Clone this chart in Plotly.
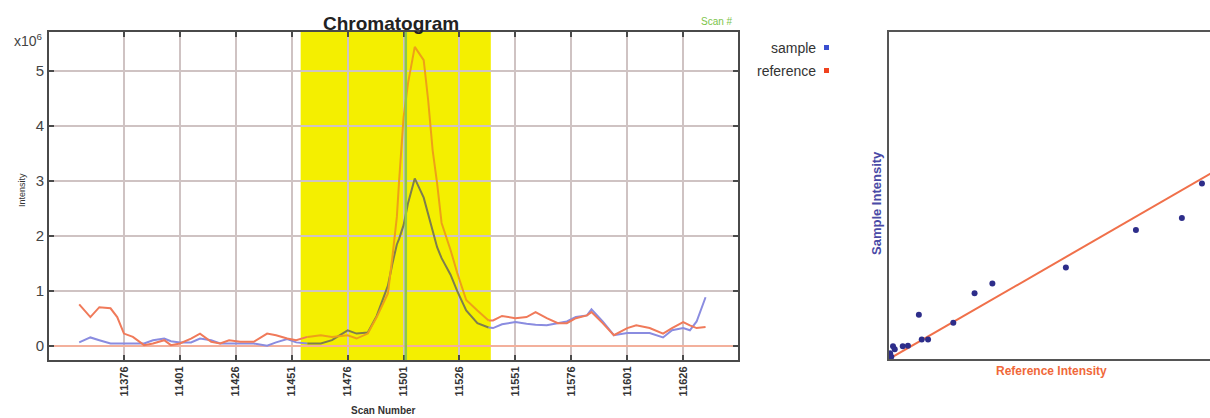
import plotly.graph_objects as go

# ---------------- data ----------------
scans = [11356, 11361, 11365, 11370, 11373, 11376, 11380, 11385, 11389, 11394,
         11397, 11401, 11406, 11410, 11415, 11419, 11423, 11428, 11434, 11440,
         11444, 11449, 11453, 11458, 11464, 11469, 11476, 11480, 11485, 11489,
         11494, 11496, 11498, 11499, 11501, 11503, 11506, 11510, 11512, 11514,
         11516, 11518, 11522, 11525, 11529, 11534, 11539, 11541, 11545, 11551,
         11556, 11560, 11565, 11570, 11574, 11578, 11583, 11585, 11590, 11595,
         11601, 11605, 11611, 11617, 11621, 11626, 11629, 11632, 11636]

reference = [0.76, 0.53, 0.71, 0.69, 0.53, 0.23, 0.17, 0.02, 0.05, 0.11,
             0.02, 0.05, 0.14, 0.23, 0.08, 0.05, 0.11, 0.08, 0.08, 0.23,
             0.20, 0.14, 0.11, 0.17, 0.20, 0.17, 0.20, 0.14, 0.23, 0.53,
             0.96, 1.62, 2.35, 3.00, 4.16, 4.78, 5.44, 5.20, 4.47, 3.56,
             2.96, 2.24, 1.75, 1.33, 0.84, 0.65, 0.47, 0.47, 0.55, 0.51,
             0.53, 0.62, 0.51, 0.42, 0.42, 0.51, 0.56, 0.62, 0.42, 0.20,
             0.33, 0.38, 0.33, 0.23, 0.33, 0.44, 0.38, 0.33, 0.35]

sample = [0.07, 0.16, 0.11, 0.05, 0.05, 0.05, 0.04, 0.05, 0.11, 0.14,
          0.09, 0.07, 0.07, 0.14, 0.11, 0.05, 0.05, 0.05, 0.05, 0.01,
          0.07, 0.13, 0.07, 0.05, 0.05, 0.11, 0.29, 0.23, 0.25, 0.55,
          1.10, 1.50, 1.85, 1.95, 2.20, 2.60, 3.05, 2.70, 2.40, 2.10,
          1.80, 1.60, 1.30, 1.00, 0.65, 0.42, 0.34, 0.33, 0.40, 0.44,
          0.41, 0.39, 0.38, 0.42, 0.45, 0.53, 0.56, 0.67, 0.45, 0.20,
          0.24, 0.24, 0.24, 0.16, 0.29, 0.33, 0.29, 0.45, 0.89]

tick_scans = [11376, 11401, 11426, 11451, 11476, 11501, 11526, 11551, 11576, 11601, 11626]
y_ticks = [0, 1, 2, 3, 4, 5]

region_start, region_end = 11455, 11540
selected_scan = 11502

# scatter (reference intensity vs sample intensity, x10^6)
ref_intensity = [0.00, 0.02, 0.04, 0.07, 0.10, 0.24, 0.33, 0.57, 0.68,
                 0.52, 1.12, 1.49, 1.80, 3.08, 4.30, 5.10, 5.45]
sample_intensity = [0.00, 0.10, 0.04, 0.22, 0.17, 0.22, 0.23, 0.34, 0.34,
                    0.77, 0.63, 1.14, 1.31, 1.59, 2.24, 2.45, 3.05]
fit_x = [0.0, 5.6]
fit_y = [0.0, 3.22]

# ---------------- figure ----------------
W, H = 1210, 418
def px(x):
    return x / W
def py(y):
    return 1 - y / H

fig = go.Figure()

in_region = [region_start <= s <= region_end for s in scans]
first_in = in_region.index(True)
last_in = len(in_region) - 1 - in_region[::-1].index(True)

def seg(vals, a, b):
    return scans[a:b + 1], vals[a:b + 1]

colors_out = {"sample": "#8a8ce0", "reference": "#f07a5a"}
colors_in = {"sample": "#7e7d4e", "reference": "#eea018"}
for name, vals in [("sample", sample), ("reference", reference)]:
    for (a, b, col) in [(0, first_in, colors_out[name]),
                        (first_in, last_in, colors_in[name]),
                        (last_in, len(scans) - 1, colors_out[name])]:
        xs, ys = seg(vals, a, b)
        fig.add_trace(go.Scatter(x=xs, y=ys, mode="lines", showlegend=False,
                                 line=dict(color=col, width=2),
                                 xaxis="x", yaxis="y", hoverinfo="skip"))

fig.add_trace(go.Scatter(x=fit_x, y=fit_y, mode="lines", showlegend=False,
                         line=dict(color="#f0704a", width=2), xaxis="x2", yaxis="y2"))
fig.add_trace(go.Scatter(x=ref_intensity, y=sample_intensity, mode="markers",
                         showlegend=False,
                         marker=dict(color="#2d2d8a", size=6), xaxis="x2", yaxis="y2"))

fig.add_shape(type="rect", xref="x", yref="paper", x0=region_start, x1=region_end,
              y0=py(360), y1=py(32), fillcolor="#f4ef00", line_width=0, layer="below")
fig.add_shape(type="line", xref="x", yref="paper", x0=selected_scan, x1=selected_scan,
              y0=py(360), y1=py(32), line=dict(color="#8cc84a", width=2.5), layer="above")

# legend squares
fig.add_shape(type="rect", xref="paper", yref="paper", x0=px(824), x1=px(829),
              y0=py(50), y1=py(45), fillcolor="#3a4fd0", line_width=0)
fig.add_shape(type="rect", xref="paper", yref="paper", x0=px(824), x1=px(829),
              y0=py(73), y1=py(68), fillcolor="#f0421e", line_width=0)

axis_common = dict(showline=True, linecolor="#4a4a4a", linewidth=2, mirror="ticks",
                   ticks="inside", ticklen=5, tickcolor="#4a4a4a", tickwidth=1.5,
                   showgrid=True, gridcolor="#cfc3c3", gridwidth=1.5)

fig.update_layout(
    width=W, height=H, margin=dict(l=0, r=0, t=0, b=0),
    paper_bgcolor="white", plot_bgcolor="rgba(0,0,0,0)",
    font=dict(family="Liberation Sans, Arial, sans-serif", color="#333"),
    xaxis=dict(domain=[px(49), px(738)], range=[11342.5, 11650.5],
               tickvals=tick_scans, ticktext=[str(t) for t in tick_scans],
               tickangle=-90, tickfont=dict(size=11, color="#333", weight="bold"),
               zeroline=False, anchor="y", **axis_common),
    yaxis=dict(domain=[py(360), py(32)], range=[-0.25, 5.71],
               tickvals=y_ticks, tickfont=dict(size=15, color="#444"),
               zeroline=True, zerolinecolor="#f3b09c", zerolinewidth=1.5,
               anchor="x", **axis_common),
    xaxis2=dict(domain=[px(889), 1.0], range=[0, 5.59], showticklabels=False,
                showgrid=False, zeroline=False, showline=True, linecolor="#555",
                linewidth=2, mirror=True, ticks="", anchor="y2"),
    yaxis2=dict(domain=[py(359), py(32)], range=[0, 5.68], showticklabels=False,
                showgrid=False, zeroline=False, showline=True, linecolor="#555",
                linewidth=2, mirror=False, ticks="", anchor="x2"),
)

ann = [
    dict(x=px(391), y=py(24), text="<b>Chromatogram</b>", font=dict(size=19, color="#222")),
    dict(x=px(735), y=py(22), text="Scan #", xanchor="right", font=dict(size=10, color="#7cc44a")),
    dict(x=px(28), y=py(40), text="x10<sup>6</sup>", font=dict(size=14, color="#444")),
    dict(x=px(22), y=py(190), text="Intensity", textangle=-90, font=dict(size=9, color="#333")),
    dict(x=px(383), y=py(410), text="<b>Scan Number</b>", font=dict(size=10, color="#333")),
    dict(x=px(818), y=py(48), text="sample", xanchor="right", font=dict(size=14, color="#333")),
    dict(x=px(818), y=py(71), text="reference", xanchor="right", font=dict(size=14, color="#333")),
    dict(x=px(876), y=py(203), text="<b>Sample Intensity</b>", textangle=-90,
         font=dict(size=13, color="#4a4aa6")),
    dict(x=px(1051), y=py(371), text="<b>Reference Intensity</b>",
         font=dict(size=12, color="#f0683a")),
]
for a in ann:
    a.update(xref="paper", yref="paper", showarrow=False)
    a.setdefault("xanchor", "center")
    a.setdefault("yanchor", "middle")
    fig.add_annotation(**a)

fig.write_html("out.html")
